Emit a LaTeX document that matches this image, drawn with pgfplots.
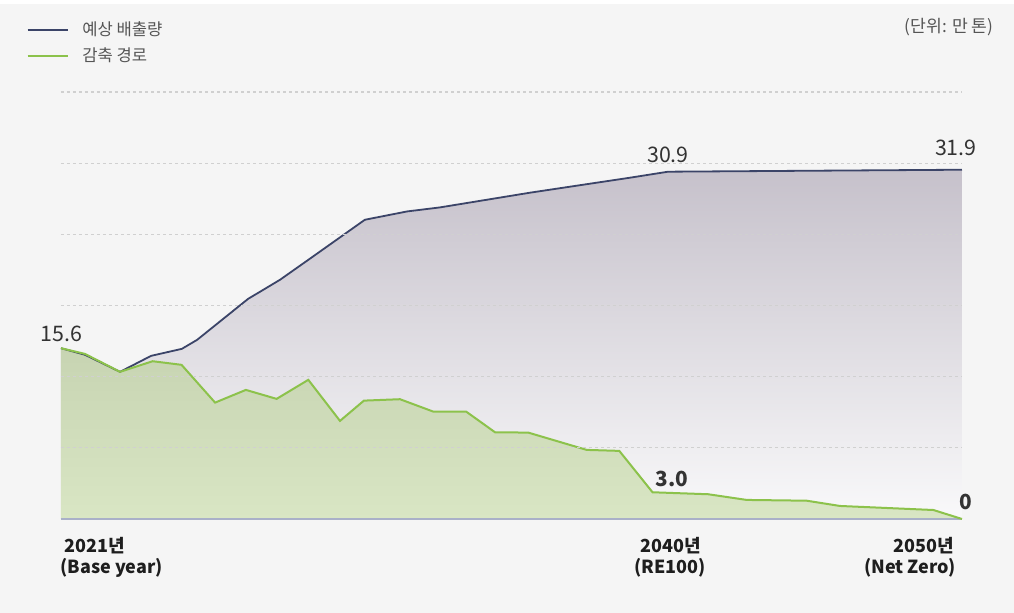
\documentclass[border=0pt]{standalone}
\usepackage{fontspec}
\setmainfont{Noto Sans CJK KR}
\usepackage{pgfplots}
\usepackage{pgfplotstable}
\pgfplotsset{compat=1.18}

\definecolor{bg}{HTML}{F5F5F5}
\definecolor{navy}{HTML}{3B4468}
\definecolor{lgreen}{HTML}{8CC24B}
\definecolor{basec}{HTML}{A9B0C8}
\definecolor{gridc}{HTML}{D0D0D0}
\definecolor{legtext}{HTML}{555555}
\definecolor{valtext}{HTML}{333333}
\definecolor{yeartext}{HTML}{1E1E1E}
\definecolor{ptop}{RGB}{198,193,203}
\definecolor{pbot}{RGB}{249,249,250}
\definecolor{gtop}{RGB}{199,212,178}
\definecolor{gbot}{RGB}{217,230,196}

\newcommand{\fs}[1]{\fontsize{#1}{#1}\selectfont}

% projected emissions (10k t)
\pgfplotstableread{
year    val
2021.00 15.60
2021.77 15.00
2022.90 13.44
2023.90 14.90
2024.89 15.54
2025.38 16.36
2027.02 20.10
2028.05 21.85
2029.01 23.77
2030.78 27.33
2032.14 28.09
2033.20 28.46
2036.09 29.80
2039.31 31.17
2040.54 31.72
2050.00 31.90
}\projected

% reduction pathway
\pgfplotstableread{
year    val
2021.00 15.60
2021.77 15.08
2022.90 13.44
2023.95 14.41
2024.88 14.08
2025.96 10.63
2026.95 11.79
2027.94 10.97
2028.96 12.71
2029.98 8.96
2030.75 10.81
2031.91 10.94
2032.98 9.81
2034.04 9.81
2034.97 7.92
2036.04 7.89
2037.92 6.31
2038.97 6.22
2040.04 2.44
2041.83 2.26
2043.07 1.74
2045.00 1.67
2046.07 1.19
2049.08 0.82
2050.00 0.00
}\reduction

\begin{document}
\begin{tikzpicture}
\fill[white] (0,0) rectangle (507pt,306.5pt);
\fill[bg] (0,0) rectangle (507pt,304.5pt);

\begin{axis}[
    at={(30.5pt,47pt)}, anchor=south west,
    scale only axis,
    width=450.5pt, height=213.5pt,
    xmin=2021, xmax=2050,
    ymin=0, ymax=39,
    xtick=\empty,
    ytick={6.5,13,19.5,26,32.5,39},
    yticklabels={,,,,,},
    ymajorgrids=true,
    major grid style={gridc, dash pattern=on 1.5pt off 1.5pt, line width=0.6pt},
    axis line style={draw=none},
    tick style={draw=none},
    axis on top,
    clip=false,
    legend style={draw=none, fill=none, at={(-0.038,1.174)}, anchor=north west,
        font=\fs{8.3}, text=legtext, inner sep=0pt, outer sep=0pt, row sep=0.5pt,
        /tikz/every odd column/.append style={column sep=5pt}},
    legend cell align=left,
    legend image code/.code={\draw[#1] (0pt,0pt) -- (20pt,0pt);},
]
\addplot[draw=none, top color=ptop, bottom color=pbot, forget plot]
    table[x=year, y=val] {\projected} \closedcycle;
\addplot[draw=none, top color=gtop, bottom color=gbot, forget plot]
    table[x=year, y=val] {\reduction} \closedcycle;
\addplot[basec, line width=1.2pt, forget plot] coordinates {(2021,0) (2050,0)};
\addplot[navy, line width=0.9pt, forget plot] table[x=year, y=val] {\projected};
\addplot[lgreen, line width=1pt, forget plot] table[x=year, y=val] {\reduction};

\addlegendimage{navy, line width=0.8pt}
\addlegendentry{예상 배출량}
\addlegendimage{lgreen, line width=0.8pt}
\addlegendentry{감축 경로}
\end{axis}

\begin{scope}[shift={(0pt,306.5pt)}, x=0.5pt, y=-0.5pt]
\node[anchor=east, inner sep=0pt, font=\fs{8.6}, text=legtext] at (994,27) {(단위: 만 톤)};
\node[inner sep=0pt, font=\fs{10.7}, text=valtext] at (61.7,334) {15.6};
\node[inner sep=0pt, font=\fs{10.7}, text=valtext] at (668,154.5) {30.9};
\node[inner sep=0pt, font=\fs{10.7}, text=valtext] at (955.8,148.3) {31.9};
\node[inner sep=0pt, font=\bfseries\fs{10.4}, text=valtext] at (671.7,479) {3.0};
\node[inner sep=0pt, font=\bfseries\fs{10.4}, text=valtext] at (965.8,502) {0};
\begin{scope}[every node/.style={inner sep=0pt, font=\bfseries\fs{9}, text=yeartext}]
\node[anchor=base west] at (64.5,552.3) {2021년};
\node[anchor=base west] at (60,574) {(Base year)};
\node[anchor=base] at (671,552.3) {2040년};
\node[anchor=base] at (670,574) {(RE100)};
\node[anchor=base east] at (954,552.3) {2050년};
\node[anchor=base east] at (956.5,574) {(Net Zero)};
\end{scope}
\end{scope}
\end{tikzpicture}
\end{document}
